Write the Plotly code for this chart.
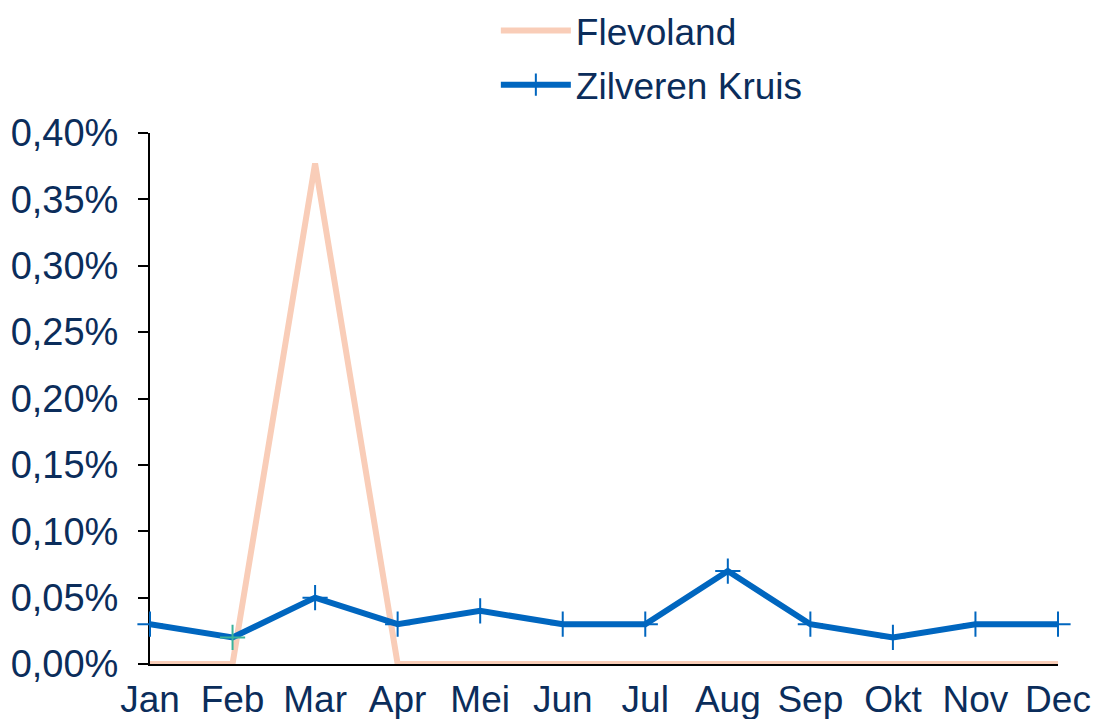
import plotly.graph_objects as go

months = ["Jan", "Feb", "Mar", "Apr", "Mei", "Jun", "Jul", "Aug", "Sep", "Okt", "Nov", "Dec"]
flevoland = [0.0, 0.0, 0.00377, 0.0, 0.0, 0.0, 0.0, 0.0, 0.0, 0.0, 0.0, 0.0]
zilveren_kruis = [0.0003, 0.0002, 0.0005, 0.0003, 0.0004, 0.0003, 0.0003, 0.0007, 0.0003, 0.0002, 0.0003, 0.0003]
y_ticks = [0.0, 0.0005, 0.001, 0.0015, 0.002, 0.0025, 0.003, 0.0035, 0.004]

text_color = "#0B2D5B"
blue = "#0066BF"
peach = "#F9CDB8"
marker_colors = [blue] * len(months)
marker_colors[1] = "#3BB39B"

fig = go.Figure()
fig.add_trace(go.Scatter(
    x=months, y=flevoland, name="Flevoland", mode="lines", legendgroup="a",
    line=dict(color=peach, width=6), cliponaxis=False,
))
fig.add_trace(go.Scatter(
    x=months, y=zilveren_kruis, name="Zilveren Kruis", mode="lines+markers", legendgroup="b",
    line=dict(color=blue, width=6),
    marker=dict(symbol="cross-thin", size=18, color=marker_colors,
                line=dict(color=marker_colors, width=2)),
    cliponaxis=False,
))

fig.update_layout(
    width=1097, height=719,
    margin=dict(l=150, r=39, t=133, b=55, autoexpand=False),
    plot_bgcolor="white", paper_bgcolor="white",
    separators=", ",
    font=dict(family="Liberation Sans, Arial, sans-serif", size=37, color=text_color),
    showlegend=True,
    legend=dict(
        xref="container", yref="container",
        x=0.452, y=1.005, xanchor="left", yanchor="top",
        font=dict(size=37, color=text_color),
        itemwidth=70, tracegroupgap=3, traceorder="grouped",
        bgcolor="rgba(0,0,0,0)",
    ),
    xaxis=dict(
        type="category", range=[0, 11], automargin=False,
        showline=True, linecolor="black", linewidth=2,
        showgrid=False, ticks="", zeroline=False, layer="below traces",
        tickfont=dict(size=37, color=text_color),
        ticklabelstandoff=2,
    ),
    yaxis=dict(
        range=[0, 0.004], tickvals=y_ticks, tickformat=".2%", automargin=False,
        showline=True, linecolor="black", linewidth=2,
        showgrid=False, ticks="outside", ticklen=10, tickwidth=2, tickcolor="black",
        zeroline=False, layer="below traces",
        tickfont=dict(size=38, color=text_color),
        ticklabelstandoff=12,
    ),
)

fig.write_html(
    "out.html",
    config={"displayModeBar": False},
    post_script="document.body.style.margin='0';document.body.style.overflow='hidden';",
)
